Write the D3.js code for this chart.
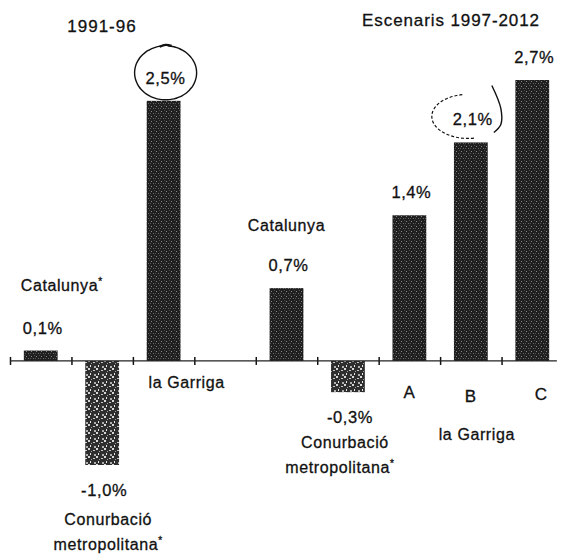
<!DOCTYPE html>
<html>
<head>
<meta charset="utf-8">
<script src="https://cdn.jsdelivr.net/npm/d3@7"></script>
<style>
    body { margin: 0; background: #fff; }
    text { font-family: "Liberation Sans", Arial, sans-serif; fill: #111; stroke: #111; stroke-width: 0.3px; letter-spacing: 0.6px; }
</style>
</head>
<body>
<script>
// slots along the axis, one is left empty between the two periods
const slots = ['cat91', 'conurb91', 'garriga91', 'gap', 'cat97', 'conurb97', 'A', 'B', 'C'];
const values = [0.1, -1.0, 2.5, null, 0.7, -0.3, 1.4, 2.1, 2.7];
const valueLabels = ['0,1%', '-1,0%', '2,5%', null, '0,7%', '-0,3%', '1,4%', '2,1%', '2,7%'];
const periodTitles = ['1991-96', 'Escenaris 1997-2012'];
const scenarioLetters = ['A', 'B', 'C'];

const width = 563, height = 555;

const svg = d3.select('body').append('svg')
    .attr('width', width)
    .attr('height', height);

// textures for the scanned look
let defs = svg.append('defs');
let dark = defs.append('pattern').attr('id', 'darkTex')
    .attr('width', 5).attr('height', 5).attr('patternUnits', 'userSpaceOnUse');
dark.append('rect').attr('width', 5).attr('height', 5).attr('fill', '#1f1f1f');
[[1, 1, '#8a8a8a'], [3, 3, '#6a6a6a'], [4, 0, '#4a4a4a'], [0, 3, '#555']].forEach(p => {
    dark.append('rect').attr('x', p[0]).attr('y', p[1]).attr('width', 1).attr('height', 1).attr('fill', p[2]);
});
let mottle = defs.append('pattern').attr('id', 'mottle')
    .attr('width', 8).attr('height', 8).attr('patternUnits', 'userSpaceOnUse');
mottle.append('rect').attr('width', 8).attr('height', 8).attr('fill', '#2e2e2e');
[[0, 0, 2, 2, '#d8d8d8'], [5, 2, 2, 1, '#c8c8c8'], [2, 5, 1, 2, '#e8e8e8'], [6, 6, 2, 2, '#b0b0b0'], [3, 3, 1, 1, '#999']].forEach(p => {
    mottle.append('rect').attr('x', p[0]).attr('y', p[1]).attr('width', p[2]).attr('height', p[3]).attr('fill', p[4]);
});

// scales
let x = d3.scaleBand().domain(slots).range([10, 563]).paddingInner(0.45).paddingOuter(0.225);
let y = d3.scaleLinear().domain([-1.0, 2.7]).range([465, 80]);
let xb = d3.scaleLinear().domain([0, slots.length]).range([10, 563]);

let data = slots.map((s, i) => ({slot: s, value: values[i], label: valueLabels[i]}))
    .filter(d => d.value !== null);

// bars
svg.append('g').selectAll('rect')
    .data(data)
    .enter().append('rect')
    .attr('x', d => x(d.slot))
    .attr('width', x.bandwidth())
    .attr('y', d => y(Math.max(0, d.value)))
    .attr('height', d => Math.abs(y(d.value) - y(0)))
    .attr('fill', d => d.value < 0 ? 'url(#mottle)' : 'url(#darkTex)');

// axis with ticks between slots
let axis = svg.append('g')
    .attr('transform', 'translate(0,' + y(0) + ')')
    .call(d3.axisBottom(xb).tickValues(d3.range(0, slots.length)).tickSize(4).tickFormat(''));
axis.select('.domain').remove();
axis.selectAll('.tick line').attr('y1', -4).attr('y2', 4).attr('stroke', '#111').attr('stroke-width', 1.5);
axis.append('line')
    .attr('x1', xb(0)).attr('x2', xb(slots.length - 0.1))
    .attr('stroke', '#222').attr('stroke-width', 1.3);

// value labels
svg.append('g').selectAll('text')
    .data(data)
    .enter().append('text')
    .attr('x', d => x(d.slot) + x.bandwidth() / 2 + 2)
    .attr('y', d => d.value < 0 ? y(d.value) + 31 : y(d.value) - 17)
    .attr('text-anchor', 'middle')
    .style('font-size', '16.5px')
    .text(d => d.label);

// period titles
svg.append('text').attr('x', 102).attr('y', 32).attr('text-anchor', 'middle')
    .style('font-size', '17px').style('letter-spacing', '1px').text(periodTitles[0]);
svg.append('text').attr('x', 451).attr('y', 26).attr('text-anchor', 'middle')
    .style('font-size', '17px').style('letter-spacing', '0.9px').text(periodTitles[1]);

// category labels
function label(cx, cy, txt, star) {
    let t = svg.append('text').attr('x', cx).attr('y', cy).attr('text-anchor', 'middle')
        .style('font-size', '16px').text(txt);
    if (star)
        t.append('tspan').attr('dy', -6).style('font-size', '10px').text('*');
    return t;
}
let cx = s => x(s) + x.bandwidth() / 2;

label(cx('cat91') + 21, 291, 'Catalunya', true);
label(cx('garriga91') + 23, 388, 'la Garriga');
label(cx('conurb91') + 6, 525, 'Conurbació');
label(cx('conurb91') + 6, 550, 'metropolitana', true);
label(cx('cat97'), 231, 'Catalunya');
label(cx('conurb97') - 3, 448, 'Conurbació');
label(cx('conurb97') - 8, 473, 'metropolitana', true);
scenarioLetters.forEach((s, i) => {
    label(cx(s) + [0, 0, 9][i], [398, 402, 400][i], s).style('font-size', '17px');
});
label(cx('B') + 6, 440, 'la Garriga');

// hand drawn circles around la Garriga values
let ellipsePts = (ex, ey, rx, ry, a0, a1) => d3.range(a0, a1 + 0.001, 0.1)
    .map(a => [ex + rx * Math.cos(a), ey + ry * Math.sin(a)]);
let curve = d3.line().curve(d3.curveCatmullRom);

let c1x = cx('garriga91') + 2, c1y = y(2.5) - 28;
svg.append('path')
    .attr('d', curve(ellipsePts(c1x, c1y, 31, 27, -1.5, 4.6)))
    .attr('fill', 'none').attr('stroke', '#111').attr('stroke-width', 1.4);
svg.append('path')
    .attr('d', curve([[c1x - 6, c1y - 26], [c1x, c1y - 28], [c1x + 6, c1y - 27]]))
    .attr('fill', 'none').attr('stroke', '#111').attr('stroke-width', 2.2);

let c2x = x('B') + x.bandwidth() / 2 - 3, c2y = y(2.1) - 26;
svg.append('path')
    .attr('d', curve(ellipsePts(c2x, c2y, 36, 22, 1.4, 4.6)))
    .attr('fill', 'none').attr('stroke', '#111').attr('stroke-width', 1.2)
    .attr('stroke-dasharray', '3,2');
svg.append('path')
    .attr('d', curve([[c2x + 24, c2y - 31], [c2x + 33, c2y - 8], [c2x + 33, c2y + 8], [c2x + 26, c2y + 16]]))
    .attr('fill', 'none').attr('stroke', '#111').attr('stroke-width', 1.4);
</script>
</body>
</html>
